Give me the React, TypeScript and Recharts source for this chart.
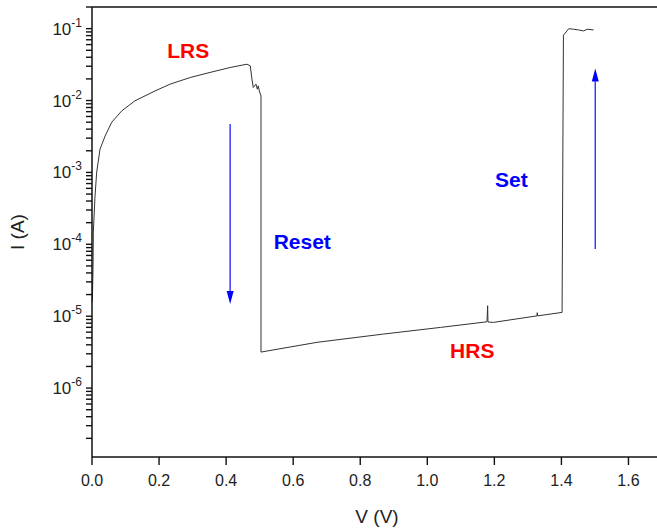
import { LineChart, Line, XAxis, YAxis, ReferenceLine, ReferenceDot } from 'recharts';

const V_VALUES = [
    0.001, 0.003, 0.004, 0.009, 0.014, 0.024, 0.039, 0.059, 0.089, 0.128,
    0.188, 0.233, 0.293, 0.352, 0.412, 0.462, 0.472, 0.477, 0.481, 0.489,
    0.493, 0.496, 0.499, 0.504, 0.504, 0.671, 0.869, 1.039, 1.178, 1.18,
    1.181, 1.197, 1.327, 1.328, 1.329, 1.402, 1.406, 1.422, 1.436, 1.451,
    1.466, 1.477, 1.496,
];
const I_VALUES = [
    1.58e-5, 4.5e-5, 1.48e-4, 4.68e-4, 1.01e-3, 2.11e-3, 3.2e-3, 5.0e-3, 7.2e-3, 9.9e-3,
    1.36e-2, 1.69e-2, 2.09e-2, 2.46e-2, 2.88e-2, 3.2e-2, 3.04e-2, 1.99e-2, 1.52e-2, 1.69e-2,
    1.44e-2, 1.6e-2, 1.36e-2, 1.16e-2, 3.17e-6, 4.33e-6, 5.64e-6, 6.98e-6, 8.36e-6, 1.4e-5,
    8.3e-6, 8.2e-6, 1.01e-5, 1.12e-5, 1.01e-5, 1.13e-5, 8.1e-2, 1.0e-1, 9.8e-2, 9.6e-2,
    9.3e-2, 9.8e-2, 9.6e-2,
];

const X_TICKS = [0, 0.2, 0.4, 0.6, 0.8, 1.0, 1.2, 1.4, 1.6];
const DECADES = [-7, -6, -5, -4, -3, -2, -1];
const Y_DOMAIN = [1.1e-7, 0.2];
const Y_TICKS = DECADES.flatMap((d) =>
    [1, 2, 3, 4, 5, 6, 7, 8, 9].map((m) => m * Math.pow(10, d))
).filter((t) => t >= Y_DOMAIN[0] && t <= Y_DOMAIN[1]);

// annotations: [V, I]
const ARROW_RESET = [[0.412, 4.7e-3], [0.412, 1.48e-5]];
const ARROW_SET = [[1.501, 8.6e-5], [1.501, 2.8e-2]];
const LABELS = [
    { text: 'LRS', v: 0.287, i: 4.87e-2, color: '#ff0000' },
    { text: 'Reset', v: 0.627, i: 1.07e-4, color: '#0000ff' },
    { text: 'Set', v: 1.251, i: 7.8e-4, color: '#0000ff' },
    { text: 'HRS', v: 1.134, i: 3.27e-6, color: '#ff0000' },
];

const data = V_VALUES.map((v, idx) => ({ v, i: I_VALUES[idx] }));

const FONT = '"Liberation Sans", Arial, sans-serif';
const AXIS = '#111';

const YTick = (props: any) => {
    const value = props.payload.value;
    const exp = Math.round(Math.log10(value));
    const isMajor = Math.abs(value - Math.pow(10, exp)) < value * 1e-6;
    if (!isMajor) return <g />;
    return (
        <text x={props.x} y={props.y + 6} textAnchor="end" fontFamily={FONT} fill="#222">
            <tspan fontSize={17}>10</tspan>
            <tspan fontSize={12} dy={-8}>{exp}</tspan>
        </text>
    );
};

const XTick = (props: any) => (
    <text x={props.x} y={props.y + 21} textAnchor="middle" fontSize={16} fontFamily={FONT} fill="#222">
        {props.payload.value.toFixed(1)}
    </text>
);

const arrowShape = (props: any) => {
    const { x1, y1, x2, y2 } = props;
    const dir = y2 > y1 ? 1 : -1;
    const headLen = 13;
    const headHalf = 3.5;
    return (
        <g>
            <line x1={x1} y1={y1} x2={x2} y2={y2 - dir * headLen} stroke="#3a3aff" strokeWidth={1.5} />
            <polygon
                points={`${x2},${y2} ${x2 - headHalf},${y2 - dir * headLen} ${x2 + headHalf},${y2 - dir * headLen}`}
                fill="#0000ff"
            />
        </g>
    );
};

export default function App() {
    return (
        <div style={{ position: 'absolute', left: 0, top: 0, width: 657, height: 528, overflow: 'hidden', background: '#fff' }}>
            <LineChart width={662} height={528} data={data} margin={{ top: 7, right: 0, bottom: 0, left: 0 }}>
                <XAxis
                    dataKey="v"
                    type="number"
                    domain={[0, 1.7]}
                    ticks={X_TICKS}
                    height={71}
                    tickSize={8}
                    tickMargin={0}
                    tickLine={{ stroke: AXIS, strokeWidth: 1.4 }}
                    tick={(p: any) => <XTick {...p} />}
                    axisLine={{ stroke: AXIS, strokeWidth: 1.5 }}
                    label={{
                        content: ({ viewBox }: any) => (
                            <text
                                x={viewBox.x + viewBox.width / 2}
                                y={viewBox.y + 66}
                                textAnchor="middle"
                                fontSize={19}
                                fontFamily={FONT}
                                fill="#222"
                            >
                                V (V)
                            </text>
                        ),
                    }}
                />
                <YAxis
                    dataKey="i"
                    scale="log"
                    domain={Y_DOMAIN}
                    allowDataOverflow
                    ticks={Y_TICKS}
                    interval={0}
                    width={92}
                    tickSize={6}
                    tickMargin={4}
                    tickLine={{ stroke: AXIS, strokeWidth: 1.4 }}
                    tick={(p: any) => <YTick {...p} />}
                    axisLine={{ stroke: AXIS, strokeWidth: 1.5 }}
                    label={{
                        content: ({ viewBox }: any) => {
                            const cx = viewBox.x + 24;
                            const cy = viewBox.y + viewBox.height / 2;
                            return (
                                <text
                                    x={cx}
                                    y={cy}
                                    transform={`rotate(-90, ${cx}, ${cy})`}
                                    textAnchor="middle"
                                    fontSize={19}
                                    fontFamily={FONT}
                                    fill="#222"
                                >
                                    I (A)
                                </text>
                            );
                        },
                    }}
                />
                <ReferenceLine y={Y_DOMAIN[1]} stroke={AXIS} strokeWidth={1.5} />
                <Line
                    type="linear"
                    dataKey="i"
                    stroke="#333"
                    strokeWidth={1}
                    dot={false}
                    isAnimationActive={false}
                />
                {[ARROW_RESET, ARROW_SET].map((seg, k) => (
                    <ReferenceLine
                        key={k}
                        segment={[{ x: seg[0][0], y: seg[0][1] }, { x: seg[1][0], y: seg[1][1] }]}
                        shape={arrowShape}
                    />
                ))}
                {LABELS.map((l) => (
                    <ReferenceDot
                        key={l.text}
                        x={l.v}
                        y={l.i}
                        r={0}
                        shape={(p: any) => (
                            <text
                                x={p.cx}
                                y={p.cy + 7}
                                textAnchor="middle"
                                fontSize={21}
                                fontWeight="bold"
                                fontFamily={FONT}
                                fill={l.color}
                            >
                                {l.text}
                            </text>
                        )}
                    />
                ))}
            </LineChart>
        </div>
    );
}
